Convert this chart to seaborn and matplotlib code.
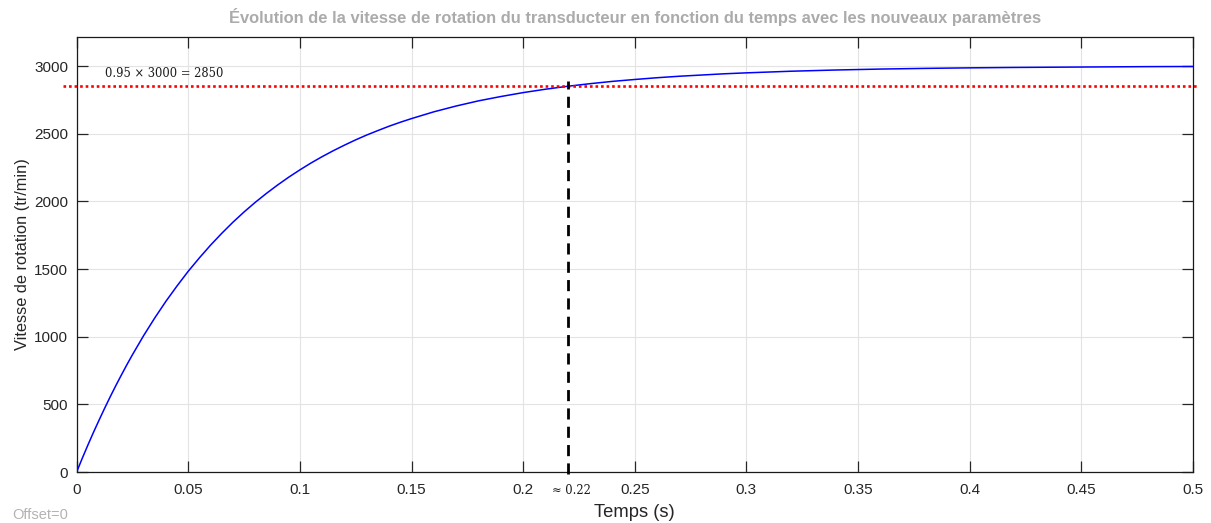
import numpy as np
import pandas as pd
import seaborn as sns
import matplotlib
matplotlib.use("Agg")
import matplotlib.pyplot as plt
import matplotlib.transforms as mtransforms

# Rotation speed of the transducer (tr/min) versus time (s)
temps = [0.0, 0.0025, 0.005, 0.0075, 0.01, 0.0125, 0.015, 0.0175, 0.02, 0.0225,
         0.025, 0.03, 0.035, 0.04, 0.045, 0.05, 0.055, 0.06, 0.065, 0.07,
         0.075, 0.08, 0.085, 0.09, 0.095, 0.10, 0.105, 0.11, 0.115, 0.12,
         0.125, 0.13, 0.135, 0.14, 0.145, 0.15, 0.16, 0.17, 0.18, 0.19,
         0.20, 0.21, 0.22, 0.23, 0.24, 0.25, 0.26, 0.27, 0.28, 0.29,
         0.30, 0.32, 0.34, 0.36, 0.38, 0.40, 0.42, 0.44, 0.46, 0.48, 0.50]
vitesse = [0, 101, 198, 292, 382, 470, 555, 637, 716, 793,
           867, 1008, 1139, 1262, 1376, 1484, 1583, 1677, 1764, 1846,
           1922, 1993, 2059, 2121, 2179, 2233, 2284, 2331, 2375, 2416,
           2455, 2491, 2524, 2556, 2585, 2612, 2662, 2705, 2743, 2775,
           2804, 2829, 2851, 2870, 2887, 2901, 2914, 2925, 2934, 2943,
           2950, 2962, 2971, 2978, 2983, 2987, 2990, 2992, 2994, 2996, 2997]

consigne = 3000
seuil = 2850          # 95 % of the set point
t_reponse = 0.22      # time at which the threshold is reached
x_ticks = [0, 0.05, 0.1, 0.15, 0.2, 0.25, 0.3, 0.35, 0.4, 0.45, 0.5]
x_ticklabels = ["0", "0.05", "0.1", "0.15", "0.2", "0.25", "0.3", "0.35", "0.4", "0.45", "0.5"]
y_ticks = [0, 500, 1000, 1500, 2000, 2500, 3000]

df = pd.DataFrame({"Temps (s)": temps, "Vitesse": vitesse})

sns.set_theme(style="white")
plt.rcParams["font.family"] = ["Liberation Sans", "DejaVu Sans"]

fig = plt.figure(figsize=(12.11, 5.23), dpi=100)
ax = fig.add_axes([0.0633, 0.0975, 0.9217, 0.8315])

sns.lineplot(data=df, x="Temps (s)", y="Vitesse", ax=ax, color="#0000ff",
             linewidth=1.1, zorder=3)

ax.set_xlim(0, 0.5)
ax.set_ylim(0, 3214)
ax.set_xticks(x_ticks)
ax.set_xticklabels(x_ticklabels)
ax.set_yticks(y_ticks)
ax.set_yticklabels([str(v) for v in y_ticks])

ax.grid(True, color="#e3e3e3", linewidth=0.8)
ax.set_axisbelow(True)
for side in ["left", "right", "top", "bottom"]:
    ax.spines[side].set_visible(True)
    ax.spines[side].set_color("#1a1a1a")
    ax.spines[side].set_linewidth(0.9)

ax.tick_params(axis="both", which="major", direction="in", length=8,
               width=0.9, color="#262626", labelsize=11, labelcolor="#262626",
               top=True, right=True, bottom=True, left=True)
ax.tick_params(axis="x", pad=8)
ax.tick_params(axis="y", pad=6)

ax.set_xlabel("Temps (s)", fontsize=13.2, color="#262626", labelpad=5)
ax.set_ylabel("Vitesse de rotation (tr/min)", fontsize=11.8, color="#262626", labelpad=3)
ax.set_title("Évolution de la vitesse de rotation du transducteur en fonction du temps avec les nouveaux paramètres",
             fontsize=11.9, fontweight="bold", color="#ababab", pad=10)

# 95 % threshold line, running slightly past both axes
ax.plot([-0.0063, 0.5027], [seuil, seuil], color="#ff0000", linewidth=1.9,
        linestyle=(0, (1, 1.1)), clip_on=False, zorder=4)
ax.text(0.0125, 2948, "0.95 × 3000 = 2850", fontsize=8.3, family="DejaVu Serif",
        color="#1a1a1a", va="center", ha="left")

# Response time marker
ax.plot([t_reponse, t_reponse], [-15, 2889], color="black", linewidth=2.0,
        linestyle=(0, (4, 2.6)), clip_on=False, zorder=5)
trans = mtransforms.blended_transform_factory(ax.transData, ax.transAxes)
ax.text(0.2215, -0.043, "≈ 0.22", transform=trans, fontsize=8.3,
        family="DejaVu Serif", color="#1a1a1a", ha="center", va="center")

fig.text(0.0099, 0.0153, "Offset=0", fontsize=10.5, color="#b3b3b3", ha="left", va="center")

fig.savefig("out.png", dpi=100)
